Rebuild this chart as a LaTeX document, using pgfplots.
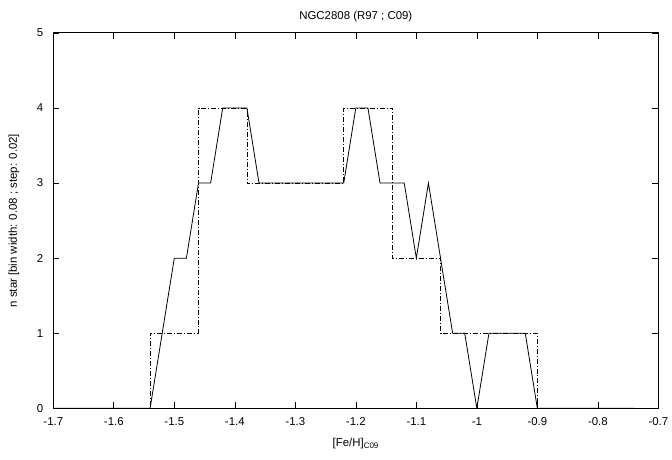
\documentclass[border=0pt]{standalone}
\usepackage{fontspec}
\setmainfont{Liberation Sans}
\usepackage{pgfplots}
\pgfplotsset{compat=1.18}
\begin{document}
\fontsize{11.5}{13}\selectfont
\begin{tikzpicture}
\begin{axis}[
  scale only axis,
  width=607.5bp, height=377bp,
  xmin=-1.7, xmax=-0.7, ymin=0, ymax=5,
  xtick={-1.7,-1.6,-1.5,-1.4,-1.3,-1.2,-1.1,-1.0,-0.9,-0.8,-0.7},
  xticklabels={-1.7,-1.6,-1.5,-1.4,-1.3,-1.2,-1.1,-1,-0.9,-0.8,-0.7},
  ytick={0,1,2,3,4,5},
  yticklabels={0,1,2,3,4,5},
  tick align=inside,
  major tick length=6bp,
  tick style={line width=0.6bp, black},
  axis line style={line width=0.9bp},
  ticklabel style={font=\fontsize{11.5}{13}\selectfont},
  xticklabel style={yshift=-5bp},
  yticklabel style={xshift=-6bp},
  title={NGC2808 (R97 ; C09)},
  title style={font=\fontsize{11.5}{13}\selectfont, yshift=1bp},
  xlabel={[Fe/H]\textsubscript{C09}},
  xlabel style={font=\fontsize{11.5}{13}\selectfont, yshift=-5bp},
  ylabel={n star [bin width: 0.08 ; step: 0.02]},
  ylabel style={font=\fontsize{11.5}{13}\selectfont, yshift=10bp},
  clip=true,
]
\addplot[black, line width=0.8bp] coordinates {
(-1.70,0) (-1.68,0) (-1.66,0) (-1.64,0) (-1.62,0) (-1.60,0) (-1.58,0) (-1.56,0)
(-1.54,0) (-1.52,1) (-1.50,2) (-1.48,2) (-1.46,3) (-1.44,3) (-1.42,4) (-1.40,4)
(-1.38,4) (-1.36,3) (-1.34,3) (-1.32,3) (-1.30,3) (-1.28,3) (-1.26,3) (-1.24,3)
(-1.22,3) (-1.20,4) (-1.18,4) (-1.16,3) (-1.14,3) (-1.12,3) (-1.10,2) (-1.08,3)
(-1.06,2) (-1.04,1) (-1.02,1) (-1.00,0) (-0.98,1) (-0.96,1) (-0.94,1) (-0.92,1)
(-0.90,0) (-0.88,0) (-0.86,0) (-0.84,0) (-0.82,0) (-0.80,0) (-0.78,0) (-0.76,0)
(-0.74,0)
};
\addplot[black, line width=0.6bp, dash pattern=on 5bp off 2bp on 1bp off 2bp, const plot] coordinates {
(-1.70,0) (-1.54,1) (-1.46,4) (-1.38,3) (-1.22,4) (-1.14,2) (-1.06,1) (-0.90,0) (-0.74,0)
};
\end{axis}
\useasboundingbox ([xshift=-53.5bp,yshift=-51bp]current axis.south west) rectangle ([xshift=11bp,yshift=33bp]current axis.north east);
\end{tikzpicture}
\end{document}
